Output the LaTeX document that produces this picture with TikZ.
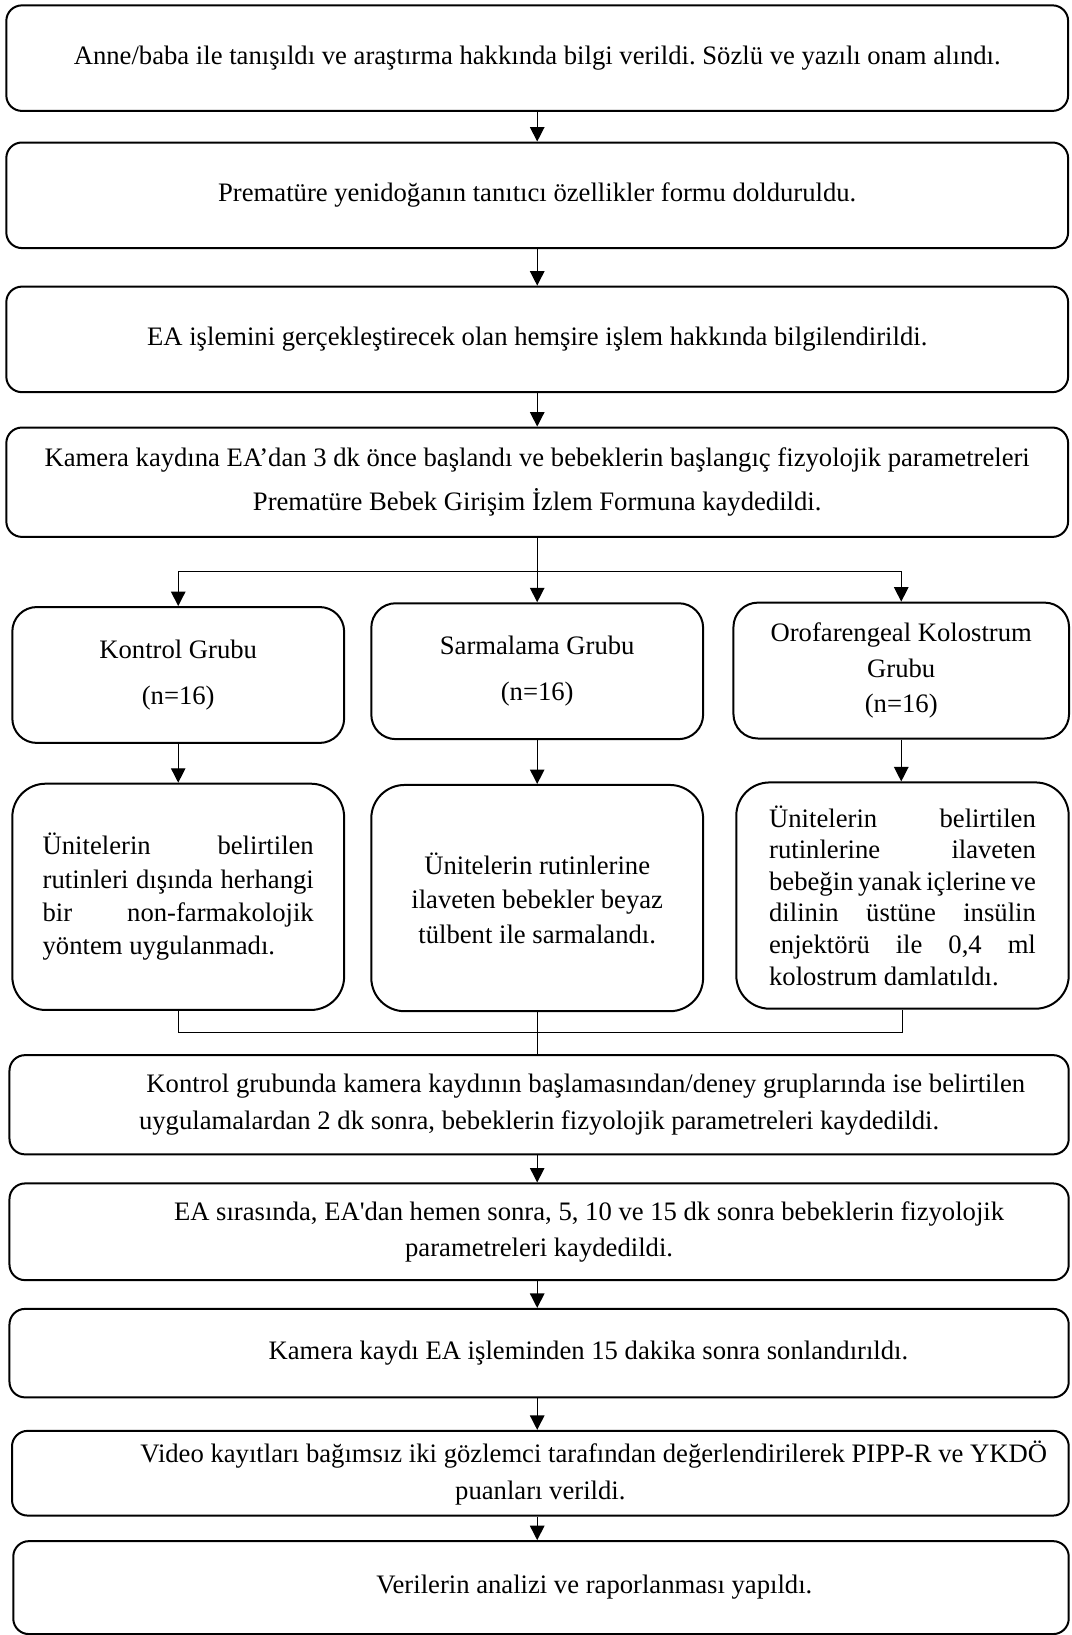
\documentclass[tikz,border=0pt]{standalone}
\usepackage{fontspec}
\setmainfont{Liberation Serif}
\usetikzlibrary{arrows.meta}
\frenchspacing

\begin{document}
\begin{tikzpicture}[
  font=\fontsize{12}{14}\selectfont,
  stepbox/.style={draw, line width=0.9pt, rounded corners=7pt, align=center, inner sep=0pt, minimum width=16.8cm},
  groupbox/.style={draw, line width=0.9pt, rounded corners=11pt, align=center, inner sep=0pt, minimum width=5.25cm, minimum height=2.15cm},
  notebox/.style={draw, line width=0.9pt, rounded corners=15pt, inner sep=0pt, minimum width=5.25cm, minimum height=3.58cm},
  link/.style={line width=0.6pt},
  arrow/.style={link, -{Triangle[length=6.5pt, width=6.5pt]}}
]
  \useasboundingbox[fill=white] (0,0) rectangle (16.95,-25.87);

  % ust adimlar
  \node[stepbox, minimum height=1.67cm] (anne) at (8.5,-0.92) {Anne/baba ile tanışıldı ve araştırma hakkında bilgi verildi. Sözlü ve yazılı onam alındı.};
  \node[stepbox, minimum height=1.67cm] (form) at (8.5,-3.09) {Prematüre yenidoğanın tanıtıcı özellikler formu dolduruldu.};
  \node[stepbox, minimum height=1.67cm] (nurse) at (8.5,-5.37) {EA işlemini gerçekleştirecek olan hemşire işlem hakkında bilgilendirildi.};
  \node[stepbox, minimum height=1.73cm, font=\fontsize{12}{20}\selectfont] (camera) at (8.5,-7.63) {Kamera kaydına EA’dan 3 dk önce başlandı ve bebeklerin başlangıç fizyolojik parametreleri\\Prematüre Bebek Girişim İzlem Formuna kaydedildi.};
  \coordinate (split) at (8.5,-9.04);

  % gruplar
  \node[groupbox, font=\fontsize{12}{21}\selectfont] (kontrol) at (2.82,-10.68) {Kontrol Grubu\\(n=16)};
  \node[groupbox, font=\fontsize{12}{21}\selectfont] (sarma) at (8.5,-10.62) {Sarmalama Grubu\\(n=16)};
  \node[groupbox, minimum width=5.31cm, font=\fontsize{12}{16}\selectfont] (kolos) at (14.26,-10.61) {Orofarengeal Kolostrum\\Grubu\\(n=16)};

  \node[notebox, align=justify, text width=4.29cm, font=\fontsize{12}{15}\selectfont] (kontroltxt) at (2.82,-14.19) {Ünitelerin belirtilen\linebreak rutinleri dışında herhangi\linebreak bir non-farmakolojik\linebreak yöntem uygulanmadı.};
  \node[notebox, align=center, font=\fontsize{12}{15.5}\selectfont] (sarmatxt) at (8.5,-14.21) {Ünitelerin rutinlerine\\ilaveten bebekler beyaz\\tülbent ile sarmalandı.};
  \node[notebox, align=justify, text width=4.22cm, minimum width=5.26cm, font=\fontsize{12}{14.2}\selectfont] (kolostxt) at (14.28,-14.17) {Ünitelerin belirtilen\linebreak rutinlerine ilaveten\linebreak bebeğin yanak içlerine ve\linebreak dilinin üstüne insülin\linebreak enjektörü ile 0,4 ml\linebreak kolostrum damlatıldı.};
  \coordinate (merge) at (8.5,-16.34);

  % alt adimlar
  \node[stepbox, minimum width=16.76cm, minimum height=1.57cm, font=\fontsize{12}{16.4}\selectfont] (params) at (8.53,-17.48) {\hspace*{3.5em}Kontrol grubunda kamera kaydının başlamasından/deney gruplarında ise belirtilen\\uygulamalardan 2 dk sonra, bebeklerin fizyolojik parametreleri kaydedildi.};
  \node[stepbox, minimum width=16.76cm, minimum height=1.53cm, font=\fontsize{12}{16}\selectfont] (eaparams) at (8.53,-19.49) {\hspace*{3.75em}EA sırasında, EA\textquotesingle dan hemen sonra, 5, 10 ve 15 dk sonra bebeklerin fizyolojik\\parametreleri kaydedildi.};
  \node[stepbox, minimum width=16.76cm, minimum height=1.40cm] (stop) at (8.53,-21.41) {\hspace*{3.7em}Kamera kaydı EA işleminden 15 dakika sonra sonlandırıldı.};
  \node[stepbox, minimum width=16.72cm, minimum height=1.34cm, font=\fontsize{12}{16.4}\selectfont] (video) at (8.55,-23.31) {\hspace*{4em}Video kayıtları bağımsız iki gözlemci tarafından değerlendirilerek PIPP-R ve YKDÖ\\puanları verildi.};
  \node[stepbox, minimum width=16.7cm, minimum height=1.47cm] (analiz) at (8.56,-25.12) {\hspace*{4em}Verilerin analizi ve raporlanması yapıldı.};

  % baglantilar
  \draw[arrow] (anne) -- (form);
  \draw[arrow] (form) -- (nurse);
  \draw[arrow] (nurse) -- (camera);
  \draw[link] (camera) -- (split);
  \draw[arrow] (split) -| (kontrol.north);
  \draw[arrow] (split) -- (sarma.north);
  \draw[arrow] (split) -| (kolos.north);
  \draw[arrow] (kontrol) -- (kontroltxt);
  \draw[arrow] (sarma) -- (sarmatxt);
  \draw[arrow] (kolos.south) -- (kolos.south |- kolostxt.north);
  \draw[link] (kontroltxt.south) |- (merge) -| (kolostxt.south);
  \draw[link] (sarmatxt.south) -- (sarmatxt.south |- params.north);
  \draw[arrow] (params.south -| merge) -- (eaparams.north -| merge);
  \draw[arrow] (eaparams.south -| merge) -- (stop.north -| merge);
  \draw[arrow] (stop.south -| merge) -- (video.north -| merge);
  \draw[arrow] (video.south -| merge) -- (analiz.north -| merge);
\end{tikzpicture}
\end{document}
